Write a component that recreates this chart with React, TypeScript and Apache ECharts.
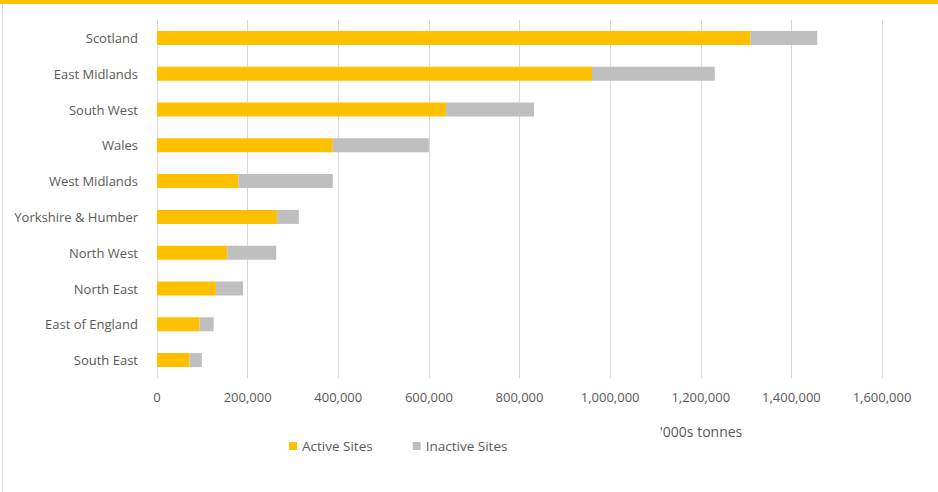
import React, { useEffect, useRef } from "react";
import * as echarts from "echarts";

const categories = [
  "Scotland",
  "East Midlands",
  "South West",
  "Wales",
  "West Midlands",
  "Yorkshire & Humber",
  "North West",
  "North East",
  "East of England",
  "South East",
];
const activeSites = [1310000, 960000, 638000, 388000, 180000, 265000, 155000, 130000, 94000, 72000];
const inactiveSites = [147000, 271000, 194000, 212000, 208000, 48000, 108000, 60000, 31000, 27000];
const seriesNames = ["Active Sites", "Inactive Sites"];
const axisTitle = "'000s tonnes";

const FONT = "'Open Sans', 'Noto Sans', sans-serif";
const TEXT = "#595959";

export default function App() {
  const ref = useRef<HTMLDivElement>(null);
  useEffect(() => {
    if (!ref.current) return;
    const chart = echarts.init(ref.current, undefined, { renderer: "svg" });
    chart.setOption({
      animation: false,
      backgroundColor: "#ffffff",
      textStyle: { fontFamily: FONT },
      grid: { left: 157, right: 56, top: 20, height: 358, containLabel: false },
      legend: {
        data: seriesNames,
        left: 284,
        top: 434,
        icon: "rect",
        itemWidth: 8,
        itemHeight: 8,
        itemGap: 40,
        textStyle: { color: TEXT, fontSize: 13.5, fontFamily: FONT },
      },
      xAxis: {
        type: "value",
        min: 0,
        max: 1600000,
        interval: 200000,
        axisLine: { show: false },
        axisTick: { show: false },
        splitLine: { show: true, lineStyle: { color: "#d9d9d9", width: 1 } },
        axisLabel: {
          color: TEXT,
          fontSize: 13,
          margin: 12,
          fontFamily: FONT,
          formatter: (v: number) => v.toLocaleString("en-US"),
        },
      },
      yAxis: {
        type: "category",
        data: categories,
        inverse: true,
        axisLine: { show: true, lineStyle: { color: "#d9d9d9" } },
        axisTick: { show: false },
        axisLabel: { color: TEXT, fontSize: 13, margin: 19, fontFamily: FONT },
      },
      series: [
        {
          name: seriesNames[0],
          type: "bar",
          stack: "total",
          data: activeSites,
          barWidth: 14,
          itemStyle: { color: "#FFC000" },
        },
        {
          name: seriesNames[1],
          type: "bar",
          stack: "total",
          data: inactiveSites,
          barWidth: 14,
          itemStyle: { color: "#BFBFBF" },
        },
      ],
      graphic: [
        { type: "rect", left: 0, top: 0, shape: { width: 938, height: 4 }, style: { fill: "#FFC000" } },
        { type: "line", shape: { x1: 2.5, y1: 4, x2: 2.5, y2: 492 }, style: { stroke: "#d9d9d9", lineWidth: 1 } },
        {
          type: "text",
          x: 701,
          y: 431,
          style: {
            text: axisTitle,
            fill: TEXT,
            font: `14px ${FONT}`,
            textAlign: "center",
            textVerticalAlign: "middle",
          },
        },
      ],
    });
    return () => chart.dispose();
  }, []);
  return <div ref={ref} style={{ width: 938, height: 492, position: "absolute", left: 0, top: 0 }} />;
}
